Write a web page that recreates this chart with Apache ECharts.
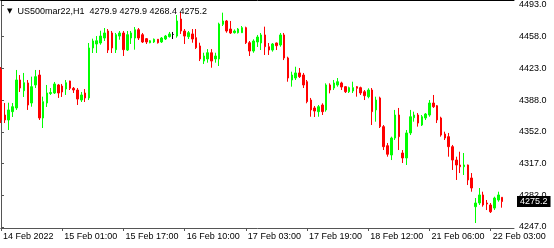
<!DOCTYPE html>
<html><head><meta charset="utf-8">
<script src="https://cdn.jsdelivr.net/npm/echarts@6/dist/echarts.min.js"></script>
<style>html,body{margin:0;padding:0;background:#fff}#c{width:554px;height:248px}</style>
</head><body><div id="c"></div>
<script>
const symbolName = 'US500mar22,H1';
const lastBar = [4279.9, 4279.9, 4268.4, 4275.2]; // O H L C
const lastPrice = 4275.2;

const opens = [4421.7,4371.1,4365.6,4374.8,4378.9,4409.9,4398.0,4406.6,4384.4,4404.4,
4415.4,4367.8,4384.4,4394.9,4395.5,4404.4,4403.2,4399.9,4408.8,4400.7,
4398.8,4387.7,4395.5,4390.0,4445.4,4449.8,4450.9,4456.4,4464.2,4462.0,
4443.5,4458.6,4462.0,4443.1,4456.4,4456.4,4465.6,4460.1,4455.7,4451.2,
4452.0,4455.0,4452.0,4455.3,4457.9,4460.3,4458.6,4477.5,4464.2,4457.9,
4460.9,4456.8,4447.6,4430.9,4433.2,4440.1,4433.2,4433.2,4471.6,4475.3,
4466.4,4462.3,4462.3,4462.3,4467.9,4451.2,4442.0,4452.0,4450.9,4459.8,
4446.8,4443.1,4450.9,4448.7,4459.8,4434.3,4409.9,4412.1,4417.7,4415.4,
4408.0,4387.7,4378.9,4374.8,4382.2,4376.7,4404.4,4401.0,4404.4,4406.6,
4402.5,4396.9,4397.7,4402.5,4401.4,4396.9,4391.4,4398.8,4376.7,4390.0,
4358.2,4337.1,4326.8,4345.6,4371.1,4329.0,4323.5,4351.2,4368.1,4371.1,
4360.0,4367.8,4371.1,4384.4,4381.4,4367.8,4350.0,4347.1,4336.0,4321.2,
4315.7,4313.8,4315.7,4301.3,4269.5,4273.6,4282.5,4273.6,4271.4,4268.0,
4276.9,4279.9];
const closes = [4365.6,4365.6,4376.7,4380.3,4409.9,4401.0,4406.9,4382.2,4402.5,4413.6,
4367.8,4385.9,4395.5,4396.0,4405.5,4395.5,4396.6,4406.9,4400.7,4398.8,
4388.8,4393.3,4390.0,4445.4,4453.1,4453.4,4458.6,4462.0,4443.1,4445.4,
4460.1,4462.0,4443.5,4460.1,4462.0,4465.6,4456.4,4452.0,4452.0,4453.4,
4455.0,4451.2,4456.4,4458.6,4460.9,4460.3,4475.3,4464.2,4458.6,4462.3,
4455.3,4445.7,4433.2,4436.5,4440.1,4430.9,4436.5,4471.9,4475.3,4464.2,
4462.0,4464.2,4466.4,4467.9,4451.2,4442.0,4453.1,4457.5,4459.8,4446.8,
4443.1,4449.8,4447.9,4459.8,4434.3,4412.1,4415.4,4417.7,4413.6,4404.4,
4385.9,4376.7,4375.5,4380.3,4374.8,4404.4,4398.8,4406.6,4408.0,4402.1,
4396.9,4401.4,4401.4,4400.7,4395.5,4392.5,4398.8,4374.8,4387.7,4358.2,
4336.0,4327.6,4345.6,4371.1,4347.1,4323.5,4351.2,4369.2,4371.1,4362.2,
4369.2,4372.2,4384.4,4380.3,4365.6,4348.9,4345.6,4336.0,4321.2,4315.7,
4313.8,4315.7,4299.1,4290.2,4273.6,4282.5,4271.4,4272.5,4263.9,4279.1,
4282.5,4275.2];
const lows = [4362.2,4362.2,4354.5,4368.9,4376.7,4396.6,4391.1,4376.7,4380.3,4401.0,
4365.6,4356.7,4380.0,4393.3,4394.4,4390.0,4391.1,4393.3,4398.8,4395.5,
4382.2,4385.5,4385.5,4387.7,4439.8,4439.8,4449.0,4453.1,4439.8,4439.8,
4439.8,4454.5,4436.5,4442.0,4449.8,4443.5,4454.2,4450.9,4449.8,4450.6,
4450.9,4450.3,4450.9,4454.2,4457.0,4455.3,4456.8,4460.9,4449.8,4455.3,
4451.2,4444.2,4430.9,4427.6,4429.1,4423.5,4429.1,4425.4,4469.7,4462.3,
4460.9,4461.4,4461.4,4462.0,4449.8,4436.5,4440.1,4446.5,4443.1,4437.6,
4437.6,4441.3,4443.1,4446.8,4432.0,4408.0,4402.5,4409.9,4412.1,4401.0,
4384.1,4369.2,4368.9,4369.2,4371.1,4374.8,4395.1,4398.8,4402.5,4398.8,
4395.5,4395.5,4395.5,4391.4,4393.3,4387.7,4389.6,4360.0,4363.7,4356.7,
4332.3,4324.9,4321.2,4343.4,4332.3,4317.9,4315.7,4348.9,4363.7,4358.2,
4358.9,4365.6,4369.2,4378.9,4362.2,4347.1,4343.4,4324.9,4310.2,4299.1,
4306.8,4304.6,4293.5,4286.1,4251.4,4271.4,4269.5,4265.8,4262.5,4265.8,
4275.0,4268.4];
const highs = [4424.3,4384.4,4384.7,4384.4,4421.0,4415.4,4417.7,4409.9,4413.6,4421.0,
4421.0,4391.4,4404.4,4401.0,4407.7,4405.5,4405.5,4409.9,4409.1,4402.1,
4401.0,4396.6,4399.9,4450.9,4455.7,4458.6,4464.5,4467.5,4466.4,4464.2,
4462.0,4464.2,4464.2,4464.2,4464.2,4468.6,4467.5,4462.0,4456.4,4454.2,
4455.9,4455.3,4457.5,4459.8,4463.1,4463.1,4481.9,4485.2,4466.4,4464.2,
4466.4,4466.4,4451.2,4440.1,4444.2,4444.2,4440.1,4473.4,4484.5,4476.4,
4475.3,4465.9,4467.5,4469.7,4469.0,4453.1,4455.0,4459.8,4462.0,4469.0,
4450.9,4450.9,4451.4,4462.0,4462.0,4435.7,4419.1,4424.6,4423.2,4417.7,
4409.9,4390.0,4381.1,4382.2,4384.1,4406.2,4406.2,4409.9,4412.1,4408.0,
4403.0,4402.5,4408.0,4403.2,4402.5,4398.8,4400.7,4401.0,4391.4,4391.4,
4360.0,4340.1,4347.1,4376.7,4378.9,4332.3,4354.5,4376.7,4374.8,4373.3,
4371.1,4373.3,4387.7,4393.3,4382.2,4369.2,4352.6,4351.2,4337.9,4324.9,
4330.4,4329.0,4316.2,4306.8,4279.1,4290.2,4286.1,4276.9,4273.6,4280.6,
4286.1,4279.9];

const xTickBars = [0,16,32,48,64,80,96,112,128];
const xTickLabels = ['14 Feb 2022','15 Feb 01:00','15 Feb 17:00','16 Feb 10:00','17 Feb 03:00','17 Feb 19:00','18 Feb 12:00','21 Feb 06:00','22 Feb 03:00'];
const yTickValues = [4247.0,4282.1,4317.3,4352.4,4387.6,4422.7,4457.9,4493.0];
const yTickLabels = ['4247.0','4282.0','4317.0','4352.0','4388.0','4423.0','4458.0','4493.0'];

const data = opens.map((o,i)=>[i, o, closes[i], lows[i], highs[i]]);
const FONT = 'Liberation Sans';
const axisColor = '#555';

const chart = echarts.init(document.getElementById('c'), null, {renderer:'canvas'});
chart.setOption({
  animation:false,
  backgroundColor:'#fff',
  title:{
    text:'{t|▼}  ' + symbolName + '  ' + lastBar.map(v=>v.toFixed(1)).join(' '),
    left:2, top:2,
    textStyle:{fontSize:9, fontWeight:'normal', color:'#000', fontFamily:FONT,
      rich:{t:{fontSize:7, color:'#000', fontFamily:'DejaVu Sans'}}}
  },
  grid:{left:-1, right:40, top:0, bottom:20, containLabel:false},
  xAxis:[{
    type:'value', min:-0.07, max:134.08, position:'bottom',
    splitLine:{show:false},
    axisLine:{show:true, lineStyle:{color:axisColor, width:1}},
    axisTick:{show:true, customValues:xTickBars, length:3, lineStyle:{color:axisColor}},
    axisLabel:{customValues:xTickBars, align:'left', margin:4, fontSize:9, color:'#000', fontFamily:FONT,
      padding:[0,0,0,2],
      formatter:v=>{const k=xTickBars.indexOf(Math.round(v)); return k>=0?xTickLabels[k]:'';}}
  },{
    type:'value', min:-0.07, max:134.08, position:'top',
    splitLine:{show:false},
    axisLine:{show:true, lineStyle:{color:'#000', width:1}},
    axisTick:{show:false}, axisLabel:{show:false}
  }],
  yAxis:{
    type:'value', position:'right', min:4245.89, max:4498.54, scale:true,
    splitLine:{show:false},
    axisLine:{show:true, lineStyle:{color:axisColor, width:1}},
    axisTick:{show:true, customValues:yTickValues, length:3, lineStyle:{color:axisColor}},
    axisLabel:{customValues:yTickValues, margin:5, fontSize:9, color:'#000', fontFamily:FONT,
      formatter:v=>{let best=0,d=1e9; yTickValues.forEach((t,k)=>{const dd=Math.abs(t-v); if(dd<d){d=dd;best=k;}}); return yTickLabels[best];}}
  },
  series:[{
    type:'candlestick',
    data:data,
    encode:{x:0, y:[1,2,3,4]},
    barWidth:2,
    clip:false,
    itemStyle:{color:'#00ff00', color0:'#ff0000', borderColor:'#00ff00', borderColor0:'#ff0000', borderColorDoji:'#000000', borderWidth:1},
    markLine:{
      silent:true, symbol:'none', animation:false,
      lineStyle:{color:'rgba(0,0,0,0)', width:1, type:'solid'},
      emphasis:{disabled:true},
      data:[{yAxis:lastPrice}],
      label:{show:true, position:'end', distance:3, formatter:lastPrice.toFixed(1), opacity:1,
        backgroundColor:'#000', color:'#fff', fontSize:9, fontFamily:FONT, padding:[1,3,1,3]}
    }
  }]
});
</script>
</body></html>
